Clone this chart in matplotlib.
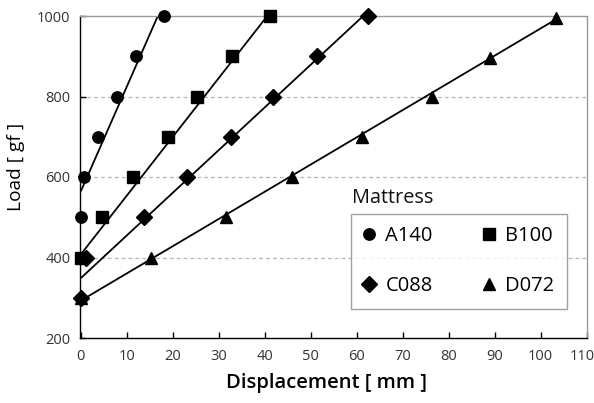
import matplotlib
matplotlib.use("Agg")
import matplotlib.pyplot as plt
import matplotlib.transforms as mtransforms
import numpy as np

plt.rcParams['font.family'] = ['Open Sans', 'DejaVu Sans']

# ---- data ----
series_names = ["A140", "B100", "C088", "D072"]
A140_x = [0, 0.7, 3.8, 7.8, 11.9, 18.1]
A140_y = [500, 600, 700, 800, 900, 1000]
B100_x = [0, 4.6, 11.3, 18.9, 25.2, 32.9, 41.1]
B100_y = [400, 500, 600, 700, 800, 900, 1000]
C088_x = [0, 1.1, 13.7, 23.0, 32.7, 41.9, 51.4, 62.5]
C088_y = [300, 400, 500, 600, 700, 800, 900, 1000]
D072_x = [0, 15.2, 31.6, 46.0, 61.1, 76.3, 89.1, 103.3]
D072_y = [300, 400, 500, 600, 700, 800, 895, 995]
# fitted lines (intercept, slope)
fit_intercept = [565, 408, 349, 293]
fit_slope = [26.0, 14.6, 10.6, 6.76]

x_ticks = [0, 10, 20, 30, 40, 50, 60, 70, 80, 90, 100, 110]
y_ticks = [200, 400, 600, 800, 1000]

xs = [A140_x, B100_x, C088_x, D072_x]
ys = [A140_y, B100_y, C088_y, D072_y]
markers = ['o', 's', 'D', '^']
msizes = [8.2, 8.1, 8.3, 9.2]

fig = plt.figure(figsize=(5.94, 4.03), dpi=100)
ax = fig.add_axes([80/594, 1-338/403, (586.5-80)/594, (338-16)/403])

for yv in [400, 600, 800]:
    ax.axhline(yv, color='#b4b4b4', lw=0.9, ls=(0, (3, 2.5)), zorder=0)

handles = []
for name, x, y, m, ms, b, k in zip(series_names, xs, ys, markers, msizes, fit_intercept, fit_slope):
    lx = np.array([0, max(x)])
    ax.plot(lx, b + k*lx, color='black', lw=1.3, zorder=2, solid_capstyle='butt')
    h, = ax.plot(x, y, ls='none', marker=m, ms=ms, color='black', zorder=3, label=name, clip_on=False)
    handles.append(h)

ax.set_xlim(-0.2, 110)
ax.set_ylim(200, 1000)
ax.set_xticks(x_ticks)
ax.set_yticks(y_ticks)
ax.tick_params(direction='in', length=4, width=1, colors='black', labelcolor='#333333',
               labelsize=10.5)
ax.tick_params(axis='x', pad=8)
ax.tick_params(axis='y', pad=7)
for s in ['left', 'bottom']:
    ax.spines[s].set_color('black')
    ax.spines[s].set_linewidth(1.0)
for s in ['top', 'right']:
    ax.spines[s].set_color('#9a9a9a')
    ax.spines[s].set_linewidth(1.0)

# nudge last x tick label so it stays inside the figure
last = ax.get_xticklabels()[-1]
last.set_transform(last.get_transform() + mtransforms.ScaledTranslation(-4/100, 0, fig.dpi_scale_trans))

ax.set_xlabel('Displacement [ mm ]', fontsize=14.5, fontweight='semibold')
ax.xaxis.set_label_coords((326-80)/506.5, (338-373)/322)
ax.set_ylabel('Load [ gf ]', fontsize=13.8)
ax.yaxis.set_label_coords((25-80)/506.5, (338-166.5)/322)

# legend filled row-wise: A140, B100 / C088, D072
order = [0, 2, 1, 3]
leg = ax.legend(handles=[handles[i] for i in order], ncol=2, loc='upper left',
                bbox_to_anchor=(350.7/594, 1-307/403, 216/594, 93/403),
                bbox_transform=fig.transFigure, mode='expand',
                borderaxespad=0, frameon=True, fancybox=False, fontsize=14.5,
                handlelength=0.6, handletextpad=0.5, columnspacing=1.5,
                labelspacing=1.47, borderpad=0.62, markerscale=1.0)
leg.get_frame().set_edgecolor('#8a8a8a')
leg.get_frame().set_linewidth(1.0)
fig.text(352/594, 1-198/403, 'Mattress', fontsize=14.3, ha='left', va='center', color='#111111')

fig.savefig('out.png', dpi=100)
